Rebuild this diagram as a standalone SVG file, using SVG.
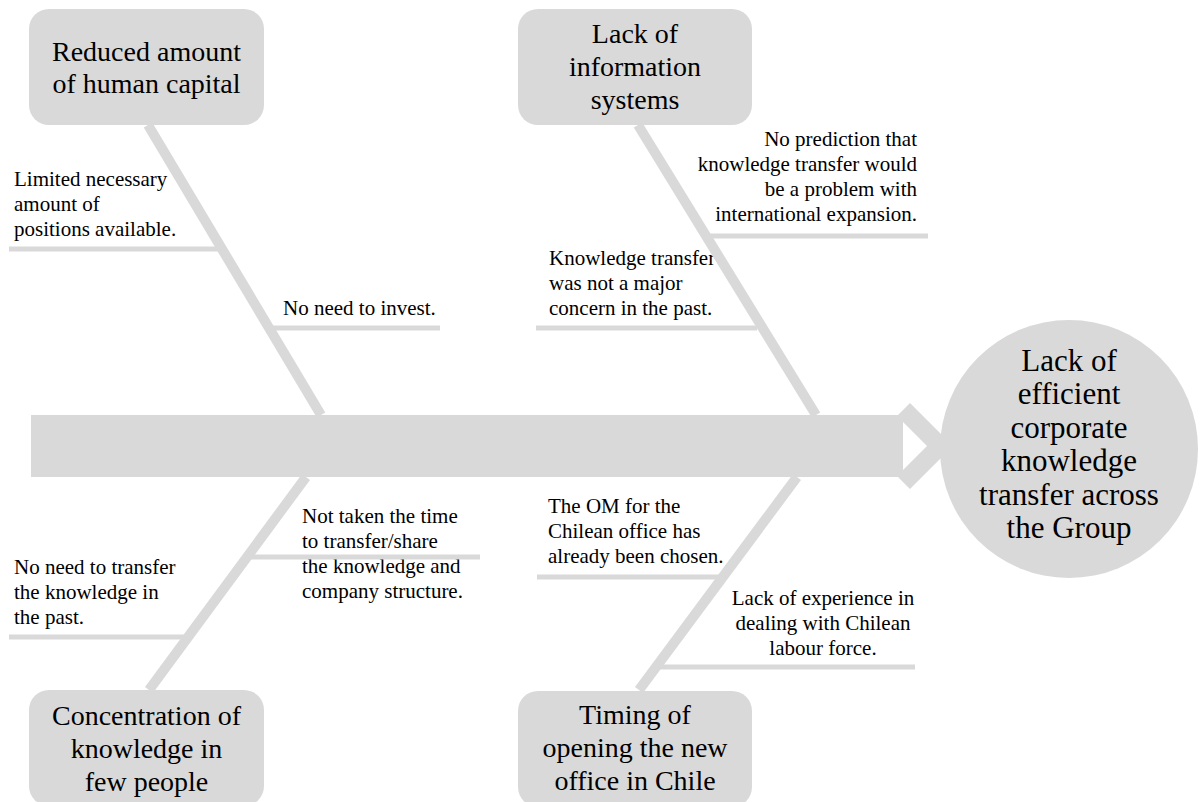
<svg xmlns="http://www.w3.org/2000/svg" width="1204" height="802" viewBox="0 0 1204 802">
<style>
.box{fill:#d9d9d9}
.bt{font-family:"Liberation Serif","Times New Roman",serif;font-size:28px;fill:#000;text-anchor:middle}
.ct{font-family:"Liberation Serif","Times New Roman",serif;font-size:31px;fill:#000;text-anchor:middle}
.st{font-family:"Liberation Serif","Times New Roman",serif;font-size:21px;fill:#000}
.bone{stroke:#d9d9d9;stroke-width:10;fill:none}
.sub{stroke:#d9d9d9;stroke-width:5;fill:none}
</style>
<rect width="1204" height="802" fill="#fff"/>

<g id="spine">
<rect x="31" y="415" width="872" height="62" fill="#d9d9d9"/>
<path d="M898,415 L910,403 L953,446 L910,489 L898,477 Z M903,422 L927,446 L903,470 Z" fill="#d9d9d9" fill-rule="evenodd"/>
</g>

<g id="effect">
<circle cx="1069" cy="449" r="129" fill="#d9d9d9"/>
<text class="ct" x="1069" y="371">Lack of</text>
<text class="ct" x="1069" y="404">efficient</text>
<text class="ct" x="1069" y="438">corporate</text>
<text class="ct" x="1069" y="471">knowledge</text>
<text class="ct" x="1069" y="505">transfer across</text>
<text class="ct" x="1069" y="538">the Group</text>
</g>

<g id="labels">
<g id="cause1a" class="st">
<text x="14" y="186">Limited necessary</text>
<text x="14" y="211">amount of</text>
<text x="14" y="236">positions available.</text>
</g>
<g id="cause1b" class="st">
<text x="283" y="315">No need to invest.</text>
</g>
<g id="cause2a" class="st" text-anchor="end">
<text x="917" y="146">No prediction that</text>
<text x="917" y="171">knowledge transfer would</text>
<text x="917" y="196">be a problem with</text>
<text x="917" y="221">international expansion.</text>
</g>
<g id="cause2b" class="st">
<text x="549" y="265">Knowledge transfer</text>
<text x="549" y="290">was not a major</text>
<text x="549" y="315">concern in the past.</text>
</g>
<g id="cause3a" class="st">
<text x="14" y="574">No need to transfer</text>
<text x="14" y="599">the knowledge in</text>
<text x="14" y="624">the past.</text>
</g>
<g id="cause3b" class="st">
<text x="302" y="523">Not taken the time</text>
<text x="302" y="548">to transfer/share</text>
<text x="302" y="573">the knowledge and</text>
<text x="302" y="598">company structure.</text>
</g>
<g id="cause4a" class="st">
<text x="548" y="513">The OM for the</text>
<text x="548" y="538">Chilean office has</text>
<text x="548" y="563">already been chosen.</text>
</g>
<g id="cause4b" class="st" text-anchor="middle">
<text x="823" y="605">Lack of experience in</text>
<text x="823" y="630">dealing with Chilean</text>
<text x="823" y="655">labour force.</text>
</g>
</g>

<g id="connectors">
<line class="bone" x1="148" y1="125" x2="321" y2="415"/>
<line class="bone" x1="638" y1="125" x2="816" y2="415"/>
<line class="bone" x1="306" y1="477" x2="149" y2="690"/>
<line class="bone" x1="797" y1="477" x2="639" y2="690"/>
<line class="sub" x1="9" y1="249" x2="222" y2="249"/>
<line class="sub" x1="270" y1="328" x2="440" y2="328"/>
<line class="sub" x1="710" y1="236" x2="928" y2="236"/>
<line class="sub" x1="536" y1="328" x2="757" y2="328"/>
<line class="sub" x1="9" y1="637" x2="186" y2="637"/>
<line class="sub" x1="250" y1="557" x2="480" y2="557"/>
<line class="sub" x1="537" y1="577" x2="723" y2="577"/>
<line class="sub" x1="658" y1="667" x2="915" y2="667"/>
</g>

<g id="cat1">
<rect class="box" x="29" y="9" width="235" height="116" rx="20"/>
<text class="bt" x="146.5" y="61">Reduced amount</text>
<text class="bt" x="146.5" y="93">of human capital</text>
</g>
<g id="cat2">
<rect class="box" x="518" y="9" width="234" height="116" rx="20"/>
<text class="bt" x="635" y="43">Lack of</text>
<text class="bt" x="635" y="76">information</text>
<text class="bt" x="635" y="109">systems</text>
</g>
<g id="cat3">
<rect class="box" x="29" y="690" width="235" height="116" rx="20"/>
<text class="bt" x="146.5" y="725">Concentration of</text>
<text class="bt" x="146.5" y="758">knowledge in</text>
<text class="bt" x="146.5" y="791">few people</text>
</g>
<g id="cat4">
<rect class="box" x="518" y="691" width="234" height="116" rx="20"/>
<text class="bt" x="635" y="724">Timing of</text>
<text class="bt" x="635" y="757">opening the new</text>
<text class="bt" x="635" y="790">office in Chile</text>
</g>
</svg>
